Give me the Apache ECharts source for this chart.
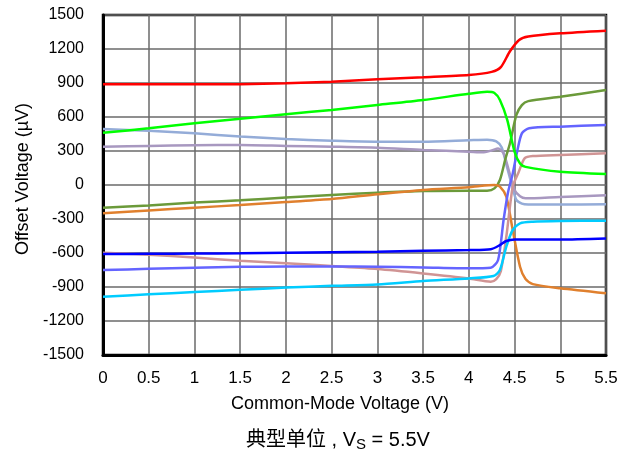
<!DOCTYPE html>
<html>
<head>
<meta charset="utf-8">
<script src="https://cdn.jsdelivr.net/npm/echarts@6/dist/echarts.min.js"></script>
<style>html,body{margin:0;padding:0;background:#fff;}#c{width:632px;height:450px;}</style>
</head>
<body>
<div id="c"></div>
<script>
var xTicks = [0, 0.5, 1, 1.5, 2, 2.5, 3, 3.5, 4, 4.5, 5, 5.5];
var yTicks = [-1500, -1200, -900, -600, -300, 0, 300, 600, 900, 1200, 1500];

var redUnit = [[0,890],[0.5,888],[1,888],[1.5,890],[2,898],[2.5,912],[3,932],[3.5,950],[4,970],[4.25,998],[4.35,1040],[4.45,1180],[4.55,1280],[4.65,1310],[5,1338],[5.5,1362]];
var greenUnit = [[0,460],[0.5,500],[1,545],[1.5,585],[2,625],[2.5,662],[3,706],[3.5,750],[4,805],[4.2,822],[4.28,812],[4.34,750],[4.42,574],[4.5,294],[4.56,190],[4.62,160],[5,117],[5.5,97]];
var steelUnit = [[0,494],[0.5,478],[1,456],[1.5,428],[2,405],[2.5,391],[3,382],[3.5,382],[4,395],[4.2,400],[4.3,385],[4.36,330],[4.42,150],[4.47,0],[4.52,-132],[4.58,-165],[4.65,-172],[5,-172],[5.5,-170]];
var purpleUnit = [[0,338],[0.5,345],[1,350],[1.5,353],[2,345],[2.5,338],[3,329],[3.5,309],[4,294],[4.15,288],[4.25,305],[4.32,322],[4.38,280],[4.44,120],[4.5,-44],[4.56,-100],[4.62,-118],[5,-105],[5.5,-91]];
var oliveUnit = [[0,-200],[0.5,-180],[1,-155],[1.5,-135],[2,-110],[2.5,-88],[3,-68],[3.5,-53],[4,-50],[4.2,-50],[4.28,-30],[4.34,44],[4.4,230],[4.45,368],[4.52,618],[4.58,705],[4.65,740],[5,779],[5.5,838]];
var orangeUnit = [[0,-250],[0.5,-225],[1,-200],[1.5,-177],[2,-150],[2.5,-124],[3,-82],[3.5,-44],[4,-20],[4.12,-8],[4.28,0],[4.34,-15],[4.41,-103],[4.48,-397],[4.56,-721],[4.62,-830],[4.7,-875],[5,-912],[5.5,-956]];
var blueUnit = [[0,-609],[0.5,-607],[1,-605],[1.5,-603],[2,-598],[2.5,-594],[3,-589],[3.5,-580],[4,-574],[4.24,-567],[4.34,-530],[4.41,-494],[4.5,-480],[5,-480],[5.5,-471]];
var pinkUnit = [[0,-597],[0.5,-615],[1,-640],[1.5,-668],[2,-690],[2.5,-715],[3,-741],[3.5,-780],[4,-824],[4.24,-853],[4.3,-830],[4.35,-760],[4.41,-456],[4.48,-15],[4.54,103],[4.61,235],[4.7,255],[5,265],[5.5,280]];
var cyanUnit = [[0,-986],[0.5,-965],[1,-945],[1.5,-925],[2,-905],[2.5,-890],[3,-877],[3.5,-847],[4,-824],[4.27,-803],[4.34,-750],[4.41,-544],[4.48,-397],[4.56,-338],[4.7,-324],[5,-318],[5.5,-315]];
var slateUnit = [[0,-750],[0.5,-740],[1,-730],[1.5,-722],[2,-720],[2.5,-720],[3,-721],[3.5,-727],[4,-735],[4.24,-730],[4.32,-662],[4.38,-309],[4.43,-60],[4.48,100],[4.53,300],[4.58,456],[4.66,500],[5,515],[5.5,530]];

var seriesList = [
  {data: steelUnit, color: '#94ACD8'},
  {data: purpleUnit, color: '#A898C0'},
  {data: oliveUnit, color: '#6B9A3A'},
  {data: orangeUnit, color: '#E0802E'},
  {data: pinkUnit, color: '#D09494'},
  {data: cyanUnit, color: '#00CCFF'},
  {data: slateUnit, color: '#6464FF'},
  {data: blueUnit, color: '#0000FF'},
  {data: greenUnit, color: '#00FF00'},
  {data: redUnit, color: '#FF0000'}
];

var chart = echarts.init(document.getElementById('c'));
var font = 'Liberation Sans, Arial, sans-serif';
chart.setOption({
  animation: false,
  title: {
    text: '典型单位 , V{sub|S} = 5.5V',
    left: 241, top: 424,
    textStyle: {
      fontFamily: 'Liberation Sans, Noto Sans CJK SC, sans-serif', fontSize: 20, fontWeight: 'normal', color: '#000',
      rich: { sub: { fontSize: 15, verticalAlign: 'bottom', padding: [8, 0, 0, 0], fontFamily: font, color: '#000' } }
    }
  },
  grid: { left: 103, right: 26, top: 15, bottom: 95, show: true, borderColor: '#000', borderWidth: 2.5, backgroundColor: 'transparent' },
  xAxis: {
    type: 'value', min: 0, max: 5.5, interval: 0.5,
    name: 'Common-Mode Voltage (V)', nameLocation: 'middle', nameGap: 40,
    nameTextStyle: { fontFamily: font, fontSize: 18, color: '#000', padding: [0, 29, 0, 0] },
    axisLine: { show: true, onZero: false, lineStyle: { color: '#000', width: 3 } },
    axisTick: { show: false },
    axisLabel: { fontFamily: font, fontSize: 17, color: '#000', margin: 15, formatter: function (v) { return String(v); } },
    splitLine: { show: true, lineStyle: { color: '#6a6a6a', width: 1.5 } }
  },
  yAxis: {
    type: 'value', min: -1500, max: 1500, interval: 300,
    name: 'Offset Voltage (µV)', nameLocation: 'middle', nameGap: 69, nameRotate: 90,
    nameTextStyle: { fontFamily: font, fontSize: 18, color: '#000', padding: [0, 0, 0, 12] },
    axisLine: { show: true, onZero: false, lineStyle: { color: '#000', width: 3 } },
    axisTick: { show: false },
    axisLabel: { fontFamily: font, fontSize: 16, color: '#000', margin: 19, formatter: function (v) { return String(v); } },
    splitLine: { show: true, lineStyle: { color: '#6a6a6a', width: 1.5 } }
  },
  series: seriesList.map(function (s) {
    return {
      type: 'line', data: s.data, showSymbol: false, symbol: 'none',
      smooth: 0.25,
      lineStyle: { color: s.color, width: 2.5 }, itemStyle: { color: s.color }
    };
  })
});
</script>
</body>
</html>
